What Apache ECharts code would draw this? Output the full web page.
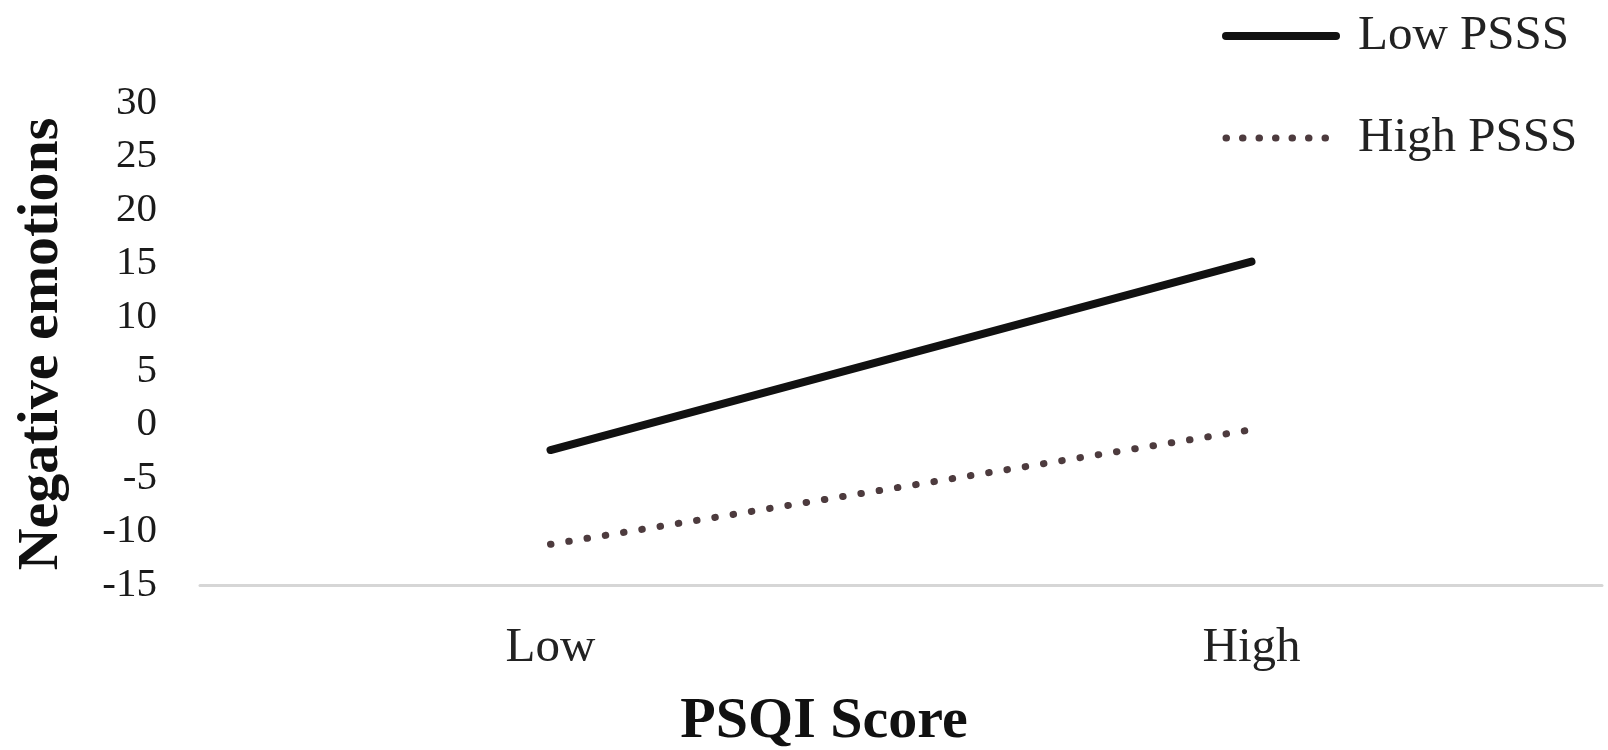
<!DOCTYPE html>
<html>
<head>
<meta charset="utf-8">
<script src="https://cdn.jsdelivr.net/npm/echarts@6/dist/echarts.min.js"></script>
<style>html,body{margin:0;padding:0;background:#fff;}#c{width:1608px;height:750px;}</style>
</head>
<body>
<div id="c"></div>
<script>
const categories = ['Low', 'High'];
const lowPSSS = [-2.4, 15.2];
const highPSSS = [-11.2, -0.5];
const yTicks = { min: -15, max: 30, interval: 5 };
const xAxisTitle = 'PSQI Score';
const yAxisTitle = 'Negative emotions';
const seriesNames = ['Low PSSS', 'High PSSS'];

const FONT = '"Liberation Serif", "Times New Roman", serif';
const lowLine = { color: '#111', width: 8, cap: 'round' };
const highLine = { color: '#4d3b3e', width: 7, type: [0.5, 18], cap: 'round' };

const chart = echarts.init(document.getElementById('c'), null, { renderer: 'canvas' });
chart.setOption({
  backgroundColor: '#ffffff',
  animation: false,
  grid: { left: 200, right: 6, top: 103, bottom: 165, outerBoundsMode: 'none', containLabel: false },
  legend: {
    orient: 'vertical',
    left: 1217,
    top: 3,
    itemWidth: 110,
    itemHeight: 14,
    itemGap: 46,
    data: [
      { name: seriesNames[0], lineStyle: lowLine, itemStyle: { opacity: 0 } },
      { name: seriesNames[1], lineStyle: { color: '#4d3b3e', width: 7, type: [0.5, 16], cap: 'round' }, itemStyle: { opacity: 0 } }
    ],
    textStyle: { fontFamily: FONT, fontSize: 49, color: '#222', lineHeight: 56, padding: [0, 0, 0, 17] }
  },
  xAxis: {
    type: 'category',
    data: categories,
    boundaryGap: true,
    axisLine: { show: true, onZero: false, lineStyle: { color: '#d6d6d6', width: 3 } },
    axisTick: { show: false },
    axisLabel: { fontFamily: FONT, fontSize: 49, color: '#222', margin: 39 },
    name: xAxisTitle,
    nameLocation: 'middle',
    nameGap: 108,
    nameTextStyle: { fontFamily: FONT, fontSize: 58, fontWeight: 'bold', color: '#111', padding: [0, 154, 0, 0] }
  },
  yAxis: {
    type: 'value',
    min: yTicks.min,
    max: yTicks.max,
    interval: yTicks.interval,
    axisLine: { show: false },
    axisTick: { show: false },
    splitLine: { show: false },
    axisLabel: { fontFamily: FONT, fontSize: 41, color: '#1a1a1a', margin: 43 },
    name: yAxisTitle,
    nameLocation: 'middle',
    nameGap: 129,
    nameRotate: 90,
    nameTextStyle: { fontFamily: FONT, fontSize: 58, fontWeight: 'bold', color: '#111' }
  },
  series: [
    {
      name: seriesNames[0],
      type: 'line',
      data: lowPSSS,
      symbol: 'none',
      lineStyle: lowLine,
      itemStyle: { color: '#111' }
    },
    {
      name: seriesNames[1],
      type: 'line',
      data: highPSSS,
      symbol: 'none',
      lineStyle: highLine,
      itemStyle: { color: '#4d3b3e' }
    }
  ]
});
</script>
</body>
</html>
